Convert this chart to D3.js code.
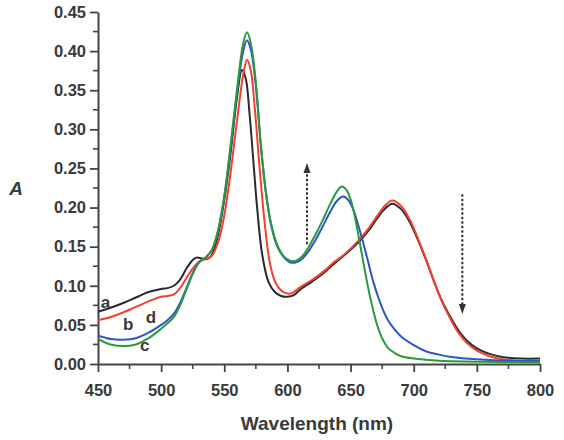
<!DOCTYPE html>
<head>
  <meta charset="utf-8" />
  <script src="https://d3js.org/d3.v7.min.js"></script>
  <style>
    body {
      margin: 0;
      background: #fff;
    }
    text {
      font-family: "Liberation Sans", Arial, sans-serif;
      font-weight: bold;
      fill: #3a3a3a;
    }
  </style>
</head>

<body>
  <script>
    var width = 564,
      height = 440;

    // spectra (wavelength nm, absorbance)
    var curveA = [
      [450, 0.067], [460, 0.072], [470, 0.078], [480, 0.085], [490, 0.092], [500, 0.096],
      [505, 0.097], [510, 0.100], [515, 0.108], [520, 0.122], [525, 0.133], [528, 0.136],
      [532, 0.135], [536, 0.134], [540, 0.139], [545, 0.165], [550, 0.210], [555, 0.270],
      [560, 0.340], [564, 0.376], [567, 0.365], [570, 0.320], [573, 0.260], [576, 0.200],
      [580, 0.140], [585, 0.105], [590, 0.092], [595, 0.087], [600, 0.086], [605, 0.088],
      [610, 0.095], [620, 0.106], [630, 0.118], [636, 0.127], [645, 0.139], [657, 0.157],
      [665, 0.172], [671, 0.186], [677, 0.198], [683, 0.205], [690, 0.198], [697, 0.181],
      [703, 0.160], [710, 0.132], [716, 0.106], [722, 0.082], [728, 0.063], [735, 0.044],
      [742, 0.030], [750, 0.020], [760, 0.013], [770, 0.009], [785, 0.007], [800, 0.007]
    ];
    var curveB = [
      [450, 0.056], [460, 0.060], [470, 0.066], [480, 0.073], [490, 0.080], [500, 0.086],
      [505, 0.087], [510, 0.089], [515, 0.097], [520, 0.110], [525, 0.122], [530, 0.131],
      [535, 0.134], [540, 0.138], [545, 0.155], [550, 0.190], [555, 0.245], [560, 0.310],
      [565, 0.370], [568, 0.389], [571, 0.375], [574, 0.330], [578, 0.250], [582, 0.180],
      [586, 0.130], [590, 0.106], [595, 0.094], [600, 0.090], [604, 0.091], [610, 0.098],
      [620, 0.108], [630, 0.120], [636, 0.129], [645, 0.140], [657, 0.159], [665, 0.175],
      [671, 0.189], [677, 0.202], [683, 0.209], [690, 0.202], [697, 0.184], [703, 0.162],
      [710, 0.133], [716, 0.106], [722, 0.081], [728, 0.061], [735, 0.041], [742, 0.027],
      [750, 0.017], [760, 0.010], [770, 0.006], [785, 0.004], [800, 0.003]
    ];
    var curveC = [
      [450, 0.032], [455, 0.028], [460, 0.025], [470, 0.023], [480, 0.025], [490, 0.033],
      [500, 0.045], [505, 0.052], [510, 0.060], [515, 0.075], [520, 0.095], [525, 0.115],
      [530, 0.130], [535, 0.136], [540, 0.145], [545, 0.170], [550, 0.215], [555, 0.280],
      [560, 0.350], [565, 0.410], [568, 0.424], [571, 0.410], [575, 0.360], [579, 0.280],
      [583, 0.220], [587, 0.180], [592, 0.152], [597, 0.138], [602, 0.132], [607, 0.132],
      [612, 0.138], [617, 0.150], [622, 0.165], [628, 0.184], [634, 0.205], [639, 0.220],
      [643, 0.227], [647, 0.222], [651, 0.205], [655, 0.175], [659, 0.140], [663, 0.105],
      [667, 0.075], [671, 0.050], [675, 0.033], [680, 0.020], [685, 0.014], [690, 0.010],
      [700, 0.007], [720, 0.004], [750, 0.003], [800, 0.002]
    ];
    var curveD = [
      [450, 0.036], [455, 0.034], [460, 0.032], [470, 0.031], [480, 0.033], [490, 0.040],
      [500, 0.050], [505, 0.056], [510, 0.064], [515, 0.078], [520, 0.097], [525, 0.116],
      [530, 0.130], [535, 0.136], [540, 0.145], [545, 0.170], [550, 0.213], [555, 0.275],
      [560, 0.345], [565, 0.400], [568, 0.414], [571, 0.402], [575, 0.355], [579, 0.278],
      [583, 0.218], [587, 0.178], [592, 0.150], [597, 0.137], [602, 0.130], [607, 0.130],
      [612, 0.135], [617, 0.145], [622, 0.158], [628, 0.176], [634, 0.195], [639, 0.208],
      [644, 0.214], [648, 0.210], [652, 0.198], [656, 0.178], [660, 0.155], [664, 0.130],
      [668, 0.105], [672, 0.085], [676, 0.068], [680, 0.055], [685, 0.044], [690, 0.035],
      [700, 0.024], [710, 0.016], [720, 0.012], [730, 0.009], [750, 0.006], [775, 0.004],
      [800, 0.004]
    ];

    var series = [
      { name: "a", color: "#2b2b2b", values: curveA },
      { name: "b", color: "#f2402f", values: curveB },
      { name: "d", color: "#2f55c4", values: curveD },
      { name: "c", color: "#2c9a3c", values: curveC }
    ];

    var xTicks = [450, 500, 550, 600, 650, 700, 750, 800];
    var yTicks = [0.0, 0.05, 0.1, 0.15, 0.2, 0.25, 0.3, 0.35, 0.4, 0.45];

    // curve letters: [label, wavelength, absorbance]
    var letters = [
      ["a", 456, 0.072],
      ["b", 474, 0.043],
      ["d", 492, 0.053],
      ["c", 487, 0.017]
    ];
    // dotted arrows: [wavelength, from, to]
    var arrows = [
      [615.5, 0.153, 0.257],
      [738.5, 0.217, 0.064]
    ];

    var margin = { left: 98, right: 24, top: 12, bottom: 76 };

    var x = d3.scaleLinear().domain([450, 800]).range([margin.left, width - margin.right]);
    var y = d3.scaleLinear().domain([0, 0.45]).range([height - margin.bottom, margin.top]);

    var svg = d3.select("body").append("svg").attr("width", width).attr("height", height);

    var axisColor = "#444";

    // minor ticks
    var g = svg.append("g");
    g.selectAll(".xminor")
      .data(d3.range(475, 800, 50))
      .enter()
      .append("line")
      .attr("x1", (d) => x(d)).attr("x2", (d) => x(d))
      .attr("y1", y(0)).attr("y2", y(0) + 5)
      .attr("stroke", axisColor).attr("stroke-width", 1.6);
    g.selectAll(".yminor")
      .data(d3.range(0.025, 0.45, 0.05))
      .enter()
      .append("line")
      .attr("x1", x(450) - 5).attr("x2", x(450))
      .attr("y1", (d) => y(d)).attr("y2", (d) => y(d))
      .attr("stroke", axisColor).attr("stroke-width", 1.6);

    var xAxis = svg.append("g")
      .attr("transform", "translate(0," + y(0) + ")")
      .call(d3.axisBottom(x).tickValues(xTicks).tickSize(8).tickPadding(12).tickSizeOuter(0));
    var yAxis = svg.append("g")
      .attr("transform", "translate(" + x(450) + ",0)")
      .call(d3.axisLeft(y).tickValues(yTicks).tickFormat(d3.format(".2f")).tickSize(8).tickPadding(4).tickSizeOuter(0));

    [xAxis, yAxis].forEach(function (ax) {
      ax.select(".domain").attr("stroke", axisColor).attr("stroke-width", 2);
      ax.selectAll(".tick line").attr("stroke", axisColor).attr("stroke-width", 1.8);
      ax.selectAll(".tick text")
        .attr("fill", "#444")
        .style("font-size", "16.5px")
        .style("font-family", "'Liberation Sans', Arial, sans-serif")
        .style("font-weight", "bold");
    });

    var line = d3.line()
      .x((d) => x(d[0]))
      .y((d) => y(d[1]))
      .curve(d3.curveCatmullRom.alpha(0.5));

    svg.append("g")
      .selectAll("path")
      .data(series)
      .enter()
      .append("path")
      .attr("fill", "none")
      .attr("stroke", (d) => d.color)
      .attr("stroke-width", 2)
      .attr("d", (d) => line(d.values));

    // arrows
    arrows.forEach(function (a) {
      var dir = a[2] > a[1] ? 1 : -1;
      var tip = y(a[2]);
      svg.append("line")
        .attr("x1", x(a[0])).attr("x2", x(a[0]))
        .attr("y1", y(a[1])).attr("y2", tip + dir * 8)
        .attr("stroke", "#333").attr("stroke-width", 2)
        .attr("stroke-dasharray", "2.5,2");
      svg.append("path")
        .attr("d", "M" + x(a[0]) + "," + tip + "L" + (x(a[0]) - 3.5) + "," + (tip + dir * 10) + "L" + (x(a[0]) + 3.5) + "," + (tip + dir * 10) + "Z")
        .attr("fill", "#333");
    });

    svg.selectAll(".lbl")
      .data(letters)
      .enter()
      .append("text")
      .attr("x", (d) => x(d[1]))
      .attr("y", (d) => y(d[2]))
      .attr("text-anchor", "middle")
      .style("font-size", "17px")
      .text((d) => d[0]);

    svg.append("text")
      .attr("x", (x(450) + x(800)) / 2 - 2)
      .attr("y", 430)
      .attr("text-anchor", "middle")
      .style("font-size", "19px")
      .text("Wavelength (nm)");

    svg.append("text")
      .attr("x", 16)
      .attr("y", 195)
      .attr("text-anchor", "middle")
      .style("font-size", "19px")
      .style("font-style", "italic")
      .text("A");
  </script>
</body>
